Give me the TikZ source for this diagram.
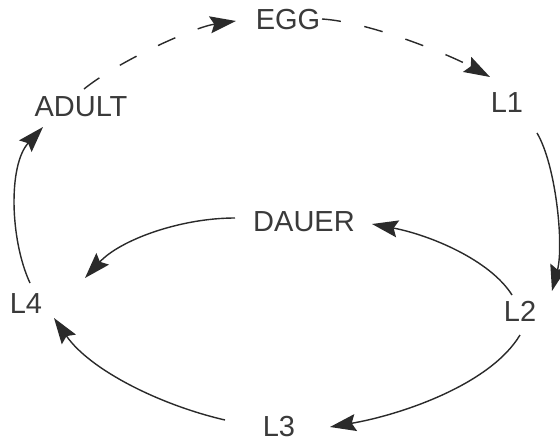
\documentclass[tikz,border=0pt]{standalone}
\usepackage{fontspec}
\setmainfont{Liberation Sans}
\usetikzlibrary{arrows.meta}
\definecolor{txtgray}{HTML}{3A3A3A}
\definecolor{lngray}{HTML}{2A2A2A}
\tikzset{
  stage/.style={inner sep=0pt, text=txtgray, font=\fontsize{29}{31}\selectfont, text height=20.8pt, text depth=0pt},
  link/.style={draw=lngray, line width=1.4pt, -{Stealth[length=26pt,width=17pt,inset=4pt]}},
  dashlink/.style={link, dash pattern=on 19pt off 24pt}
}
\begin{document}
\begin{tikzpicture}[x=1pt,y=-1pt]
\fill[white] (0,0) rectangle (560,442);
\useasboundingbox (0,0) rectangle (560,442);
\node[stage] (egg) at (288,19) {EGG};
\node[stage] (l1) at (507,102) {L1};
\node[stage] (adult) at (81,106) {ADULT};
\node[stage] (dauer) at (304,221) {DAUER};
\node[stage] (l4) at (26,303) {L4};
\node[stage] (l2) at (520,311) {L2};
\node[stage] (l3) at (279,426) {L3};
% EGG -> L1
\draw[dashlink] ([shift={(34,0)}]egg.center) .. controls +(48,3) and +(-40,-22) .. ([shift={(-17,-25)}]l1.center);
% ADULT -> EGG
\draw[dashlink] ([shift={(3,-17)}]adult.center) .. controls +(36,-29) and +(-41,6) .. ([shift={(-52,2)}]egg.center);
% L1 -> L2
\draw[link] ([shift={(30,31)}]l1.center) .. controls +(19,32) and +(12,-46) .. ([shift={(32,-20)}]l2.center);
% L2 -> DAUER
\draw[link] ([shift={(-8,-16)}]l2.center) .. controls +(-22,-35) and +(58,11) .. ([shift={(68,3)}]dauer.center);
% DAUER -> L4
\draw[link] ([shift={(-69,-3)}]dauer.center) .. controls +(-55,0) and +(35,-38) .. ([shift={(59,-25)}]l4.center);
% L2 -> L3
\draw[link] ([shift={(0,24)}]l2.center) .. controls +(-30,50) and +(70,-12) .. ([shift={(51,1)}]l3.center);
% L3 -> L4
\draw[link] ([shift={(-54,-6)}]l3.center) .. controls +(-65,-15) and +(36,52) .. ([shift={(28,15)}]l4.center);
% L4 -> ADULT
\draw[link] ([shift={(4,-20)}]l4.center) .. controls +(-20,-43) and +(-35,38) .. ([shift={(-38,21)}]adult.center);
\end{tikzpicture}
\end{document}
